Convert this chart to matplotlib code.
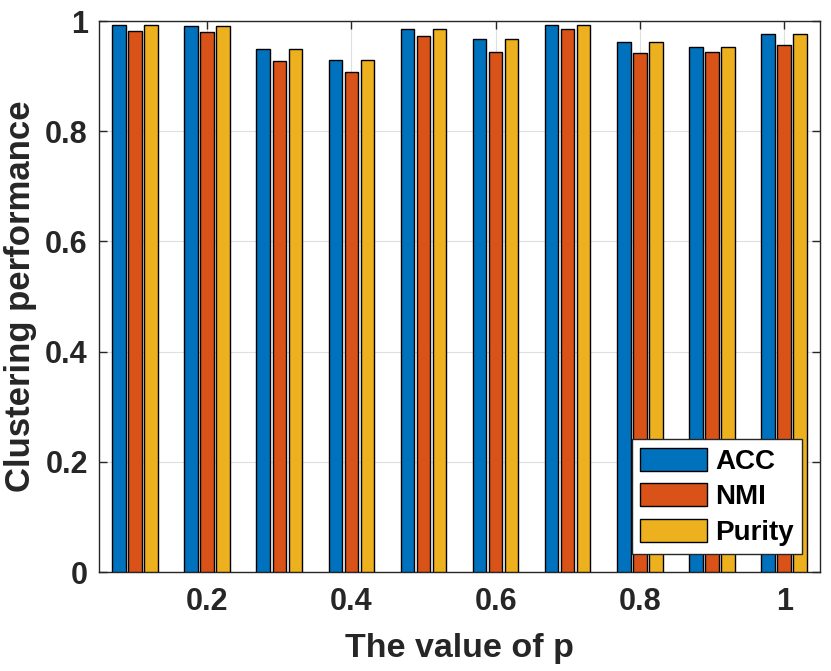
import numpy as np
import matplotlib
matplotlib.use("Agg")
import matplotlib.pyplot as plt

# p values and clustering scores
p_values = [0.1, 0.2, 0.3, 0.4, 0.5, 0.6, 0.7, 0.8, 0.9, 1.0]
acc = [0.993, 0.991, 0.949, 0.929, 0.986, 0.967, 0.993, 0.962, 0.953, 0.977]
nmi = [0.982, 0.980, 0.927, 0.907, 0.972, 0.943, 0.985, 0.942, 0.943, 0.956]
purity = [0.993, 0.991, 0.949, 0.929, 0.986, 0.967, 0.993, 0.962, 0.953, 0.977]
series_names = ["ACC", "NMI", "Purity"]
xtick_vals = [0.2, 0.4, 0.6, 0.8, 1.0]
xtick_labels = ["0.2", "0.4", "0.6", "0.8", "1"]
ytick_vals = [0, 0.2, 0.4, 0.6, 0.8, 1.0]
ytick_labels = ["0", "0.2", "0.4", "0.6", "0.8", "1"]

colors = ["#0072BD", "#D95319", "#EDB120"]
axcol = "#262626"

plt.rcParams["font.family"] = ["Liberation Sans", "DejaVu Sans"]
plt.rcParams["font.weight"] = "bold"

fig = plt.figure(figsize=(8.31, 6.71), dpi=100)
ax = fig.add_axes([0.119, 0.1475, 0.868, 0.8212])

x = np.array(p_values)
w = 0.0186
off = 0.0222
for i, (vals, name) in enumerate(zip([acc, nmi, purity], series_names)):
    ax.bar(x + (i - 1) * off, vals, width=w, color=colors[i],
           edgecolor="black", linewidth=1.0, label=name, zorder=3)

ax.set_xlim(0.05, 1.05)
ax.set_ylim(0, 1)
ax.set_xticks(xtick_vals)
ax.set_xticklabels(xtick_labels)
ax.set_yticks(ytick_vals)
ax.set_yticklabels(ytick_labels)
ax.tick_params(direction="in", length=6, width=1, colors=axcol,
               labelsize=22, top=True, right=True)
ax.tick_params(axis="x", pad=11)
ax.tick_params(axis="y", pad=8)
for lab in ax.get_xticklabels() + ax.get_yticklabels():
    lab.set_fontweight("bold")
for s in ax.spines.values():
    s.set_color(axcol)
    s.set_linewidth(1)
ax.grid(True, color="#dfdfdf", linewidth=0.8, zorder=0)
ax.set_axisbelow(True)

ax.set_xlabel("The value of p", fontsize=24.5, fontweight="bold", color=axcol, labelpad=11)
ax.set_ylabel("Clustering performance", fontsize=25, fontweight="bold", color=axcol, labelpad=6)

leg = ax.legend(loc="lower right", prop={"weight": "bold", "size": 20},
                handlelength=2.4, handleheight=0.9, handletextpad=0.3,
                borderpad=0.3, labelspacing=0.3, fancybox=False,
                framealpha=1, edgecolor=axcol, borderaxespad=0.65)
leg.get_frame().set_linewidth(1)

fig.savefig("out.png", dpi=100)
